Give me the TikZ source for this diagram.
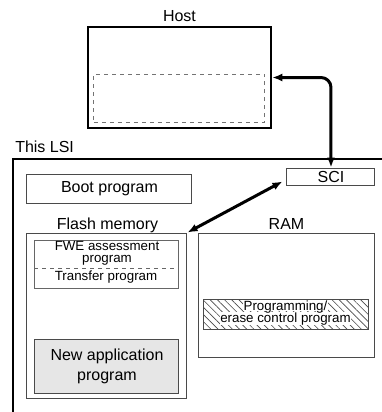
\documentclass[tikz,border=0pt]{standalone}
\usepackage{fontspec}
\setmainfont{Liberation Sans}
\usetikzlibrary{arrows.meta,patterns.meta,calc}
\definecolor{edgegray}{HTML}{4A4A4A}
\definecolor{appgray}{HTML}{E6E6E6}
\newcommand\bigtxt{\fontsize{12}{15}\selectfont}
\newcommand\smalltxt{\fontsize{10}{9}\selectfont}

\begin{document}
\begin{tikzpicture}[x=.75pt,y=-.75pt,>={Latex[length=7.5pt,width=6pt]},font=\bigtxt,
  box/.style 2 args={draw=edgegray,line width=.75pt,inner sep=0pt,minimum width=#1*.75pt,minimum height=#2*.75pt},
  link/.style={<->,line width=2.25pt},
  lbl/.style={anchor=base,inner sep=0pt}]
\useasboundingbox (0,0) rectangle (382,412);
% host
\node[box={183}{101},draw=black,line width=1.9pt] (host) at (179.5,77.5){};
\node[box={171}{48},draw=black!55,dashed] (hostmem) at (179.5,98){};
\node[lbl] (hostlbl) at (179.5,21){Host};
% this LSI
\draw[line width=1.5pt] (13,412)--(13,159)--(382,159);
\node[lbl,anchor=base west] (lsilbl) at (15,152){This LSI};
\node[box={88}{17}] (sci) at (331,176.5){SCI};
\node[box={165}{29}] (boot) at (109.5,188.5){Boot program};
% flash memory
\node[box={160}{165}] (flash) at (107,315.5){};
\node[lbl] (flashlbl) at (107.5,229){Flash memory};
\node[box={144}{48},draw=black!60] (fwe) at (107,264){};
\node[font=\smalltxt,align=center] (fwetxt) at (107,253){FWE assessment\\program};
\node[lbl,font=\smalltxt] (xfer) at (106,280){Transfer program};
\coordinate (split) at (107,268);
\draw[dashed,draw=black!60,line width=.75pt] (fwe.west|-split)--(fwe.east|-split);
\node[box={144}{54},fill=appgray,align=center] (app) at (107,366){New application\\program};
% RAM
\node[box={176}{124}] (ram) at (287,295){};
\node[lbl] (ramlbl) at (286.5,229){RAM};
\node[box={165}{30},pattern={Lines[angle=-45,distance=3.8pt,line width=.5pt]},pattern color=edgegray] (prog) at (286.5,314){};
\node[lbl,font=\smalltxt,fill=white,inner sep=.5pt] (progbot) at (285.5,322){erase control program};
\node[lbl,font=\smalltxt,fill=white,inner sep=.5pt,text depth=0pt] (progtop) at (285.5,310){Programming/};
% links
\draw[link,rounded corners=7.5pt] (host.east) -| (sci.north);
\draw[link] (flash.north east) -- ($(sci.south west)+(-4,-4)$);
\end{tikzpicture}
\end{document}
